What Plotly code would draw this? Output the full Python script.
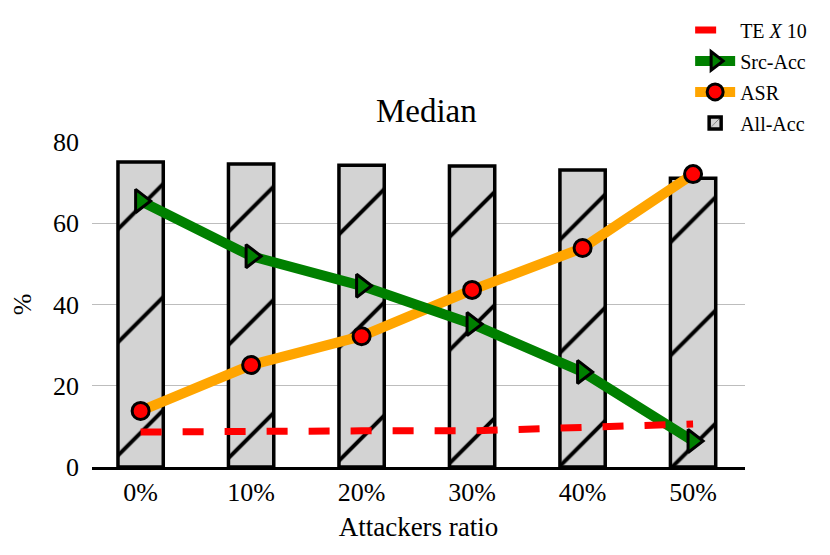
import plotly.graph_objects as go

# values
ratios = ["0%", "10%", "20%", "30%", "40%", "50%"]
all_acc = [75.1, 74.6, 74.3, 74.1, 73.1, 71.1]
src_acc = [65.5, 51.9, 44.6, 35.2, 23.4, 6.4]
asr = [13.8, 25.1, 32.2, 43.6, 53.9, 72.1]
te_x10 = [8.6, 8.9, 8.9, 8.9, 9.6, 10.6]

FONT = "'Liberation Serif', 'Times New Roman', serif"

fig = go.Figure()

fig.add_trace(go.Bar(
    x=ratios, y=all_acc, name="All-Acc", width=0.41,
    marker=dict(color="lightgray",
                line=dict(color="black", width=3.5),
                pattern=dict(shape="/", fgcolor="black", bgcolor="lightgray",
                             fgopacity=1, size=80, solidity=0.05)),
    legendrank=4, legendgroup="all",
))

fig.add_trace(go.Scatter(
    x=ratios, y=asr, name="ASR", mode="lines+markers",
    line=dict(color="orange", width=10),
    marker=dict(symbol="circle", size=17, color="red",
                line=dict(color="black", width=3)),
    legendrank=3, legendgroup="asr",
))

fig.add_trace(go.Scatter(
    x=ratios, y=src_acc, name="Src-Acc", mode="lines+markers",
    line=dict(color="green", width=10),
    marker=dict(symbol="triangle-right", size=20, color="green",
                line=dict(color="black", width=3)),
    legendrank=2, legendgroup="src",
))

fig.add_trace(go.Scatter(
    x=ratios, y=te_x10, name="TE <i>X</i> 10", mode="lines",
    line=dict(color="red", width=7, dash="dash"),
    legendrank=1, legendgroup="te",
))

fig.update_layout(
    width=830, height=555,
    margin=dict(l=84, r=93, t=134, b=96, autoexpand=False),
    paper_bgcolor="white", plot_bgcolor="white",
    font=dict(family=FONT, size=26, color="black"),
    title=dict(text="Median", x=0.504, xanchor="center", y=0.816, yanchor="middle",
               font=dict(size=33)),
    legend=dict(x=0.916, y=1.405, xanchor="left", yanchor="top",
                font=dict(size=20), bgcolor="rgba(0,0,0,0)",
                itemwidth=40, tracegroupgap=2),
    xaxis=dict(title=dict(text="Attackers ratio", font=dict(size=27), standoff=12),
               showline=True, linecolor="black", linewidth=2.5,
               showgrid=False, ticks="", range=[-0.44, 5.47]),
    yaxis=dict(title=dict(text="%", font=dict(size=26), standoff=14),
               range=[0, 80], dtick=20, showgrid=True, gridcolor="#bdbdbd",
               gridwidth=1, zeroline=False, showline=False, ticks="",
               ticklabelstandoff=12),
)

fig.write_html("out.html")
